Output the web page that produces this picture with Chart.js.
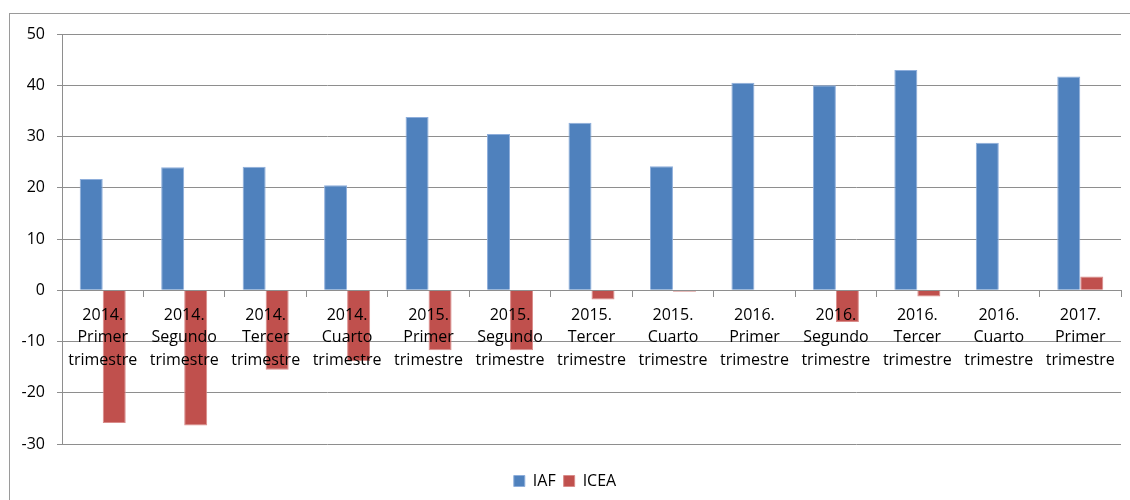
<!DOCTYPE html>
<html>
<head>
<meta charset="utf-8">
<script src="https://cdn.jsdelivr.net/npm/chart.js@4/dist/chart.umd.min.js"></script>
<style>
  html, body { margin: 0; padding: 0; background: #fff; overflow: hidden; width: 1130px; height: 500px; }
  #frame { position: absolute; left: 9px; top: 13px; width: 1200px; height: 600px;
           border-left: 1px solid #9a9a9a; border-top: 1px solid #9a9a9a; }
  #wrap { position: absolute; left: 0; top: 0; width: 1130px; height: 500px; }
</style>
</head>
<body>
<div id="frame"></div>
<div id="wrap"><canvas id="c" width="1130" height="500"></canvas></div>
<script>
const categories = [
  ["2014.", "Primer", "trimestre"],
  ["2014.", "Segundo", "trimestre"],
  ["2014.", "Tercer", "trimestre"],
  ["2014.", "Cuarto", "trimestre"],
  ["2015.", "Primer", "trimestre"],
  ["2015.", "Segundo", "trimestre"],
  ["2015.", "Tercer", "trimestre"],
  ["2015.", "Cuarto", "trimestre"],
  ["2016.", "Primer", "trimestre"],
  ["2016.", "Segundo", "trimestre"],
  ["2016.", "Tercer", "trimestre"],
  ["2016.", "Cuarto", "trimestre"],
  ["2017.", "Primer", "trimestre"]
];
const seriesNames = ["IAF", "ICEA"];
const iafValues  = [21.7, 24.0, 24.1, 20.5, 33.8, 30.5, 32.7, 24.2, 40.5, 40.0, 43.0, 28.8, 41.7];
const iceaValues = [-25.9, -26.4, -15.5, -13.8, -11.7, -11.7, -1.8, -0.3, 0, -6.2, -1.2, -0.1, 2.7];
const yMin = -30, yMax = 50, yStep = 10;

const FONT = "'Open Sans', 'Noto Sans', sans-serif";
const GRID = '#8e8e8e';

new Chart(document.getElementById('c'), {
  type: 'bar',
  data: {
    labels: categories,
    datasets: [
      { label: seriesNames[0], data: iafValues, backgroundColor: '#4F81BD',
        borderColor: '#8EAEDB', borderWidth: 1 },
      { label: seriesNames[1], data: iceaValues, backgroundColor: '#C0504D',
        borderColor: '#D98C8A', borderWidth: 1 }
    ]
  },
  options: {
    responsive: false,
    animation: false,
    devicePixelRatio: 1,
    datasets: { bar: { categoryPercentage: 0.565, barPercentage: 1.0 } },
    layout: { padding: { left: 9, right: 9, top: 34, bottom: 1 } },
    plugins: {
      tooltip: { enabled: false },
      legend: {
        position: 'bottom',
        title: { display: true, text: ' ', font: { size: 1, lineHeight: 1 }, padding: { top: 20, bottom: 0 } },
        labels: {
          font: { family: FONT, size: 16 },
          color: '#000',
          boxWidth: 11,
          boxHeight: 11,
          padding: 8
        }
      }
    },
    scales: {
      x: {
        position: { y: 0 },
        grid: { offset: true, drawOnChartArea: false, drawTicks: true, tickLength: 6, color: GRID, z: 1 },
        border: { display: true, color: GRID, z: 1 },
        ticks: {
          z: 1,
          font: { family: FONT, size: 16, lineHeight: 1.4 },
          color: '#000',
          padding: 8,
          maxRotation: 0,
          autoSkip: false
        }
      },
      y: {
        min: yMin,
        max: yMax,
        ticks: { stepSize: yStep, font: { family: FONT, size: 16 }, color: '#000', padding: 12 },
        grid: { color: GRID, tickLength: 5 },
        border: { display: true, color: GRID },
        afterFit(scale) { scale.width = 53; }
      }
    }
  }
});
</script>
</body>
</html>
